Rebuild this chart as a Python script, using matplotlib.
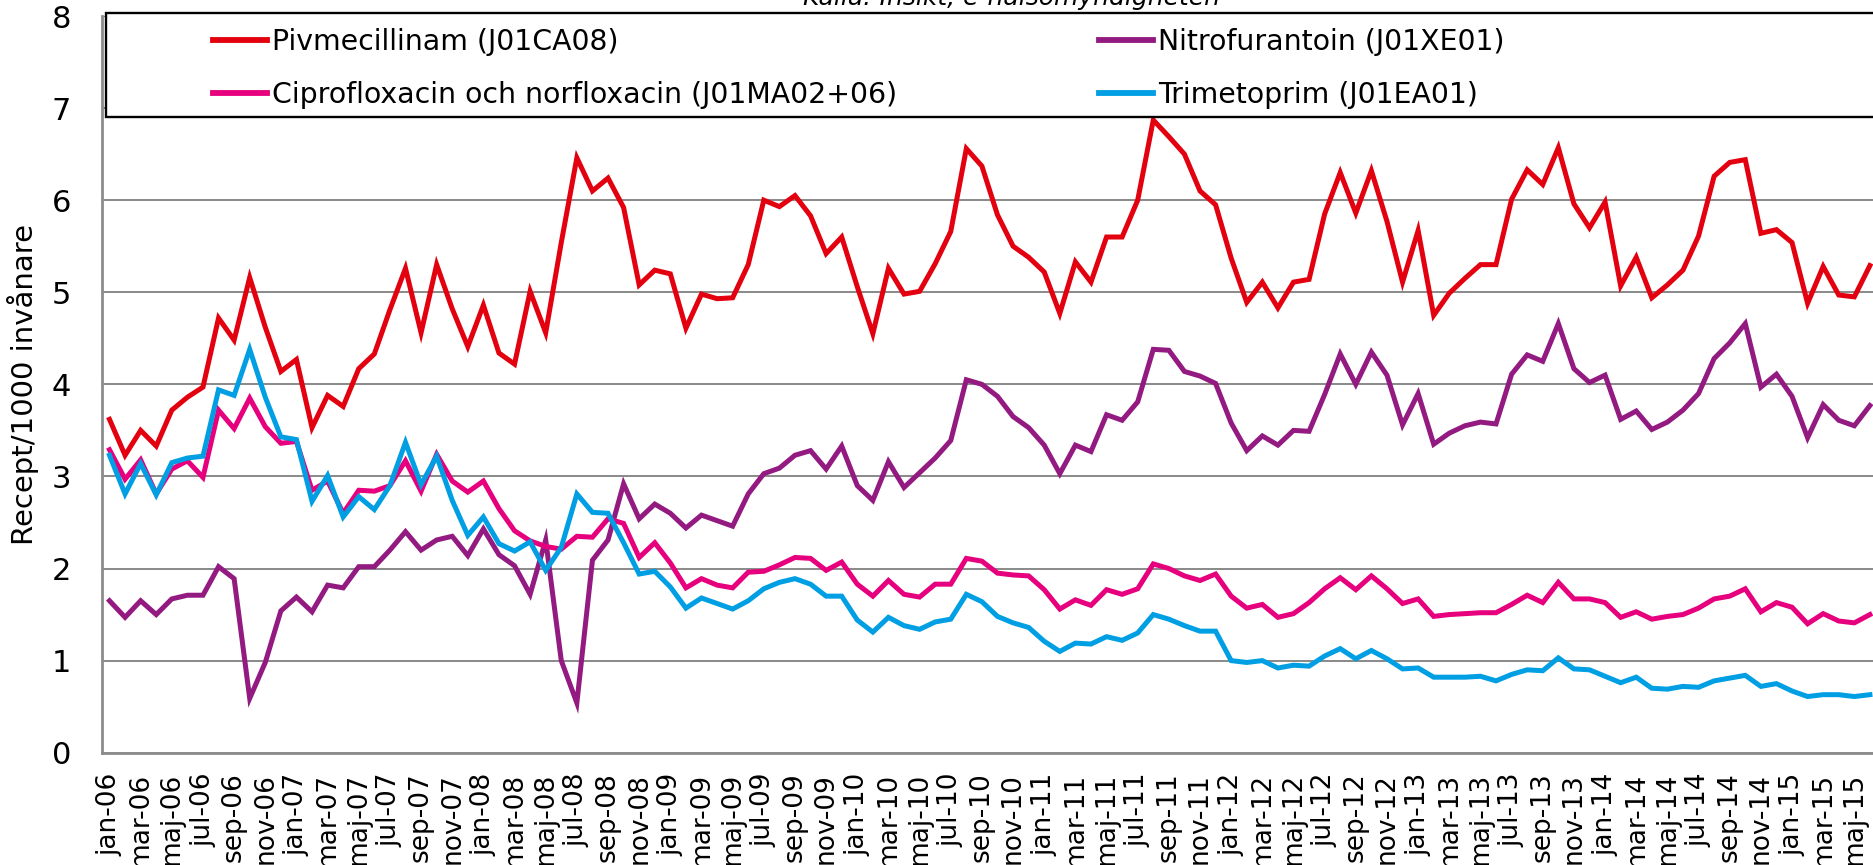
import matplotlib
matplotlib.use("Agg")
import matplotlib.pyplot as plt
from matplotlib.patches import Rectangle

plt.rcParams['font.family'] = ['DejaVu Sans']

month_names = ["jan", "feb", "mar", "apr", "maj", "jun", "jul", "aug", "sep", "okt", "nov", "dec"]
years = list(range(2006, 2016))
months = [f"{m}-{str(y)[2:]}" for y in years for m in month_names][:114]

pivmecillinam = [
    3.62, 3.23, 3.50, 3.33, 3.72, 3.86, 3.97, 4.72, 4.48, 5.16, 4.62, 4.14, 4.27, 3.53, 3.88, 3.76, 4.17, 4.33, 4.81, 5.26,
    4.56, 5.30, 4.82, 4.41, 4.86, 4.34, 4.22, 5.01, 4.56, 5.54,
    6.46, 6.10, 6.24, 5.92, 5.08, 5.24, 5.20, 4.61, 4.98, 4.93, 4.94, 5.30, 6.00, 5.93, 6.05, 5.83, 5.42, 5.60, 5.06, 4.55,
    5.26, 4.98, 5.01, 5.31, 5.66, 6.56, 6.37, 5.84,
    5.50, 5.38, 5.22, 4.77, 5.33, 5.11, 5.60, 5.60, 6.00, 6.87, 6.69, 6.50, 6.10, 5.95, 5.37, 4.89, 5.11, 4.83, 5.11, 5.14,
    5.85, 6.30, 5.86, 6.32, 5.77, 5.11, 5.67, 4.75,
    4.99, 5.15, 5.30, 5.30, 6.01, 6.33, 6.17, 6.57, 5.96, 5.70, 5.98, 5.07, 5.38, 4.94, 5.08, 5.24, 5.61, 6.26, 6.41, 6.44,
    5.64, 5.68, 5.54, 4.88, 5.28, 4.97, 4.95, 5.29,
]
nitrofurantoin = [
    1.65, 1.47, 1.65, 1.50, 1.67, 1.71, 1.71, 2.02, 1.89, 0.59, 0.98, 1.54, 1.69, 1.53, 1.82, 1.79, 2.02, 2.02, 2.20, 2.40,
    2.20, 2.31, 2.35, 2.14, 2.43, 2.15, 2.03, 1.72, 2.31, 1.00,
    0.54, 2.09, 2.31, 2.92, 2.54, 2.70, 2.60, 2.44, 2.58, 2.52, 2.46, 2.81, 3.03, 3.09, 3.23, 3.28, 3.08, 3.33, 2.90, 2.74,
    3.16, 2.88, 3.04, 3.20, 3.39, 4.05, 4.00, 3.87,
    3.65, 3.53, 3.34, 3.03, 3.34, 3.27, 3.67, 3.61, 3.81, 4.38, 4.37, 4.14, 4.09, 4.01, 3.58, 3.28, 3.44, 3.34, 3.50, 3.49,
    3.89, 4.33, 4.00, 4.35, 4.10, 3.56, 3.90, 3.35,
    3.47, 3.55, 3.59, 3.57, 4.11, 4.32, 4.25, 4.66, 4.17, 4.02, 4.10, 3.62, 3.71, 3.51, 3.59, 3.72, 3.90, 4.28, 4.45, 4.66,
    3.97, 4.11, 3.87, 3.42, 3.78, 3.61, 3.55, 3.77,
]
ciprofloxacin = [
    3.29, 2.97, 3.18, 2.81, 3.08, 3.17, 2.99, 3.72, 3.52, 3.85, 3.54, 3.36, 3.38, 2.85, 2.95, 2.60, 2.85, 2.84, 2.90, 3.17,
    2.84, 3.24, 2.95, 2.83, 2.95, 2.65, 2.41, 2.30, 2.24, 2.21,
    2.35, 2.34, 2.54, 2.49, 2.12, 2.28, 2.06, 1.79, 1.89, 1.82, 1.79, 1.96, 1.97, 2.04, 2.12, 2.11, 1.98, 2.07, 1.83, 1.70,
    1.87, 1.72, 1.69, 1.83, 1.83, 2.11, 2.08, 1.95,
    1.93, 1.92, 1.77, 1.56, 1.66, 1.60, 1.77, 1.72, 1.78, 2.05, 2.00, 1.92, 1.87, 1.94, 1.70, 1.57, 1.61, 1.47, 1.51, 1.63,
    1.78, 1.90, 1.77, 1.92, 1.78, 1.62, 1.67, 1.48,
    1.50, 1.51, 1.52, 1.52, 1.61, 1.71, 1.63, 1.85, 1.67, 1.67, 1.63, 1.47, 1.53, 1.45, 1.48, 1.50, 1.57, 1.67, 1.70, 1.78,
    1.53, 1.63, 1.58, 1.40, 1.51, 1.43, 1.41, 1.50,
]
trimetoprim = [
    3.23, 2.81, 3.14, 2.80, 3.15, 3.20, 3.22, 3.94, 3.88, 4.38, 3.86, 3.43, 3.40, 2.73, 3.01, 2.56, 2.78, 2.64, 2.90, 3.37,
    2.91, 3.22, 2.74, 2.36, 2.56, 2.27, 2.19, 2.29, 1.98, 2.23,
    2.81, 2.61, 2.60, 2.28, 1.94, 1.97, 1.80, 1.57, 1.68, 1.62, 1.56, 1.65, 1.78, 1.85, 1.89, 1.83, 1.70, 1.70, 1.44, 1.31,
    1.47, 1.38, 1.34, 1.42, 1.45, 1.72, 1.64, 1.48,
    1.41, 1.36, 1.21, 1.10, 1.19, 1.18, 1.26, 1.22, 1.30, 1.50, 1.45, 1.38, 1.32, 1.32, 1.00, 0.98, 1.00, 0.92, 0.95, 0.94,
    1.05, 1.13, 1.02, 1.11, 1.02, 0.91, 0.92, 0.82,
    0.82, 0.82, 0.83, 0.78, 0.85, 0.90, 0.89, 1.03, 0.91, 0.90, 0.83, 0.76, 0.82, 0.70, 0.69, 0.72, 0.71, 0.78, 0.81, 0.84,
    0.72, 0.75, 0.67, 0.61, 0.63, 0.63, 0.61, 0.63,
]

series_labels = ["Pivmecillinam (J01CA08)", "Nitrofurantoin (J01XE01)",
                 "Ciprofloxacin och norfloxacin (J01MA02+06)", "Trimetoprim (J01EA01)"]
colors = ["#E3000F", "#931A80", "#E6007E", "#009FE3"]

W, H = 1873, 865
fig = plt.figure(figsize=(W / 100, H / 100), dpi=100)
ax_left, ax_bottom, ax_top = 101.7, 752.7, 16.0
ax = fig.add_axes([ax_left / W, 1 - ax_bottom / H, 1776 / W, (ax_bottom - ax_top) / H])

x = list(range(len(months)))
lines = []
for data, c, lab in zip([pivmecillinam, nitrofurantoin, ciprofloxacin, trimetoprim], colors, series_labels):
    ln, = ax.plot(x, data, color=c, lw=3.6, label=lab, solid_joinstyle='miter', zorder=3)
    lines.append(ln)

ax.set_xlim(-0.5, len(months) - 0.5)
ax.set_ylim(0, 8)
ax.set_yticks(range(0, 9))
ax.set_xticks(x[::2])
ax.set_xticklabels(months[::2], rotation=90, fontsize=19)
ax.tick_params(axis='x', length=0, pad=14.4)
ax.tick_params(axis='y', labelsize=22, length=0, pad=22)
ax.grid(axis='y', color='#8c8c8c', lw=1.45)
ax.set_axisbelow(True)
for s in ['top', 'right']:
    ax.spines[s].set_visible(False)
for s in ['left', 'bottom']:
    ax.spines[s].set_color('#8c8c8c')
    ax.spines[s].set_linewidth(2.0)
ax.set_ylabel("Recept/1000 invånare", fontsize=21)
ax.yaxis.set_label_coords(-(ax_left - 39) / 1776, 0.5)

# legend frame (extends past the right edge, as in the original)
fig.patches.append(Rectangle((106 / W, 1 - 117.3 / H), (1900 - 106) / W, (117.3 - 13.3) / H,
                             transform=fig.transFigure, fill=True, facecolor='white',
                             edgecolor='black', lw=1.7, zorder=5))
common = dict(frameon=False, borderpad=0, borderaxespad=0, handlelength=1.9, handletextpad=0.2,
              labelspacing=0.88, fontsize=20.4, bbox_transform=fig.transFigure, loc='upper left')
leg1 = fig.legend([lines[0], lines[2]], [series_labels[0], series_labels[2]],
                  bbox_to_anchor=(213 / W, 1 - 28 / H), **common)
leg2 = fig.legend([lines[1], lines[3]], [series_labels[1], series_labels[3]],
                  bbox_to_anchor=(1099 / W, 1 - 28 / H), **common)
for lg in (leg1, leg2):
    lg.set_zorder(6)
    for h in lg.legend_handles:
        h.set_linewidth(4.2)

fig.text(1011 / W, 1 - 5 / H, "Källa: Insikt, e-hälsomyndigheten", ha='center', va='baseline',
         fontsize=18, style='italic')

fig.savefig("out.png", dpi=100)
